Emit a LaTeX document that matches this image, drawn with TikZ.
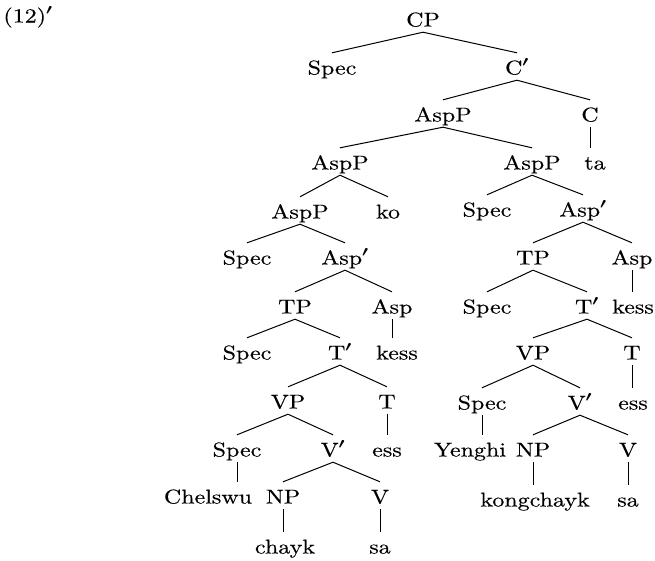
\documentclass[tikz,border=0pt]{standalone}
\usepackage{fontspec}
\setmainfont{lmroman10-regular.otf}[FakeBold=0.3]
\newcommand{\pr}{{\boldmath$'$}}
\begin{document}
\begin{tikzpicture}[x=1pt,y=-1pt,
  tn/.style={font=\fontsize{20}{24}\selectfont, xscale=1.2, inner sep=0pt,
    text height=21.5pt, text depth=5.5pt, anchor=base, yshift=-6.5pt},
  br/.style={line width=1pt}]
\useasboundingbox (0,0) rectangle (655,560);
\node[tn] (lab) at (28,16) {(12)\pr};
\node[tn] (cp) at (423,20) {CP};
\node[tn] (spec1) at (332,68) {Spec};
\node[tn] (cbar) at (517,68) {C\pr};
\node[tn] (asp3) at (443,115) {AspP};
\node[tn] (c) at (590,115) {C};
\node[tn] (asp4l) at (340,163) {AspP};
\node[tn] (asp4r) at (532,163) {AspP};
\node[tn] (ta) at (595,163) {ta};
\node[tn] (asp5) at (300,212) {AspP};
\node[tn] (ko) at (388,212) {ko};
\node[tn] (specL1) at (247,258) {Spec};
\node[tn] (aspbarL) at (345,258) {Asp\pr};
\node[tn] (tpL) at (295,307) {TP};
\node[tn] (aspL) at (392,307) {Asp};
\node[tn] (specL2) at (247,353) {Spec};
\node[tn] (tbarL) at (340,353) {T\pr};
\node[tn] (kessL) at (397,353) {kess};
\node[tn] (vpL) at (288,402) {VP};
\node[tn] (tL) at (387,402) {T};
\node[tn] (specL3) at (237,450) {Spec};
\node[tn] (vbarL) at (333,450) {V\pr};
\node[tn] (essL) at (387,450) {ess};
\node[tn] (chelswu) at (208,497) {Chelswu};
\node[tn] (npL) at (283,497) {NP};
\node[tn] (vL) at (380,497) {V};
\node[tn] (chayk) at (285,547) {chayk};
\node[tn] (saL) at (380,547) {sa};
\node[tn] (specR1) at (487,210) {Spec};
\node[tn] (aspbarR) at (583,210) {Asp\pr};
\node[tn] (tpR) at (533,258) {TP};
\node[tn] (aspR) at (632,258) {Asp};
\node[tn] (specR2) at (487,307) {Spec};
\node[tn] (tbarR) at (587,307) {T\pr};
\node[tn] (kessR) at (633,307) {kess};
\node[tn] (vpR) at (533,353) {VP};
\node[tn] (tR) at (632,353) {T};
\node[tn] (specR3) at (482,403) {Spec};
\node[tn] (vbarR) at (580,403) {V\pr};
\node[tn] (essR) at (633,403) {ess};
\node[tn] (yenghi) at (470,450) {Yenghi};
\node[tn] (npR) at (533,450) {NP};
\node[tn] (vR) at (628,450) {V};
\node[tn] (kong) at (535,500) {kongchayk};
\node[tn] (saR) at (628,500) {sa};
\foreach \p/\q in {cp/spec1,cp/cbar,cbar/asp3,cbar/c,asp3/asp4l,asp3/asp4r,
  asp4l/asp5,asp4l/ko,asp5/specL1,asp5/aspbarL,aspbarL/tpL,aspbarL/aspL,
  tpL/specL2,tpL/tbarL,tbarL/vpL,tbarL/tL,vpL/specL3,vpL/vbarL,vbarL/npL,vbarL/vL,
  asp4r/specR1,asp4r/aspbarR,aspbarR/tpR,aspbarR/aspR,tpR/specR2,tpR/tbarR,
  tbarR/vpR,tbarR/tR,vpR/specR3,vpR/vbarR,vbarR/npR,vbarR/vR}
  \draw[br] (\p.south) -- (\q.north);
\foreach \p/\q in {c/ta,aspL/kessL,tL/essL,specL3/chelswu,npL/chayk,vL/saL,
  aspR/kessR,tR/essR,specR3/yenghi,npR/kong,vR/saR}
  \draw[br] (\p.south) -- (\p.south |- \q.north);
\end{tikzpicture}
\end{document}
